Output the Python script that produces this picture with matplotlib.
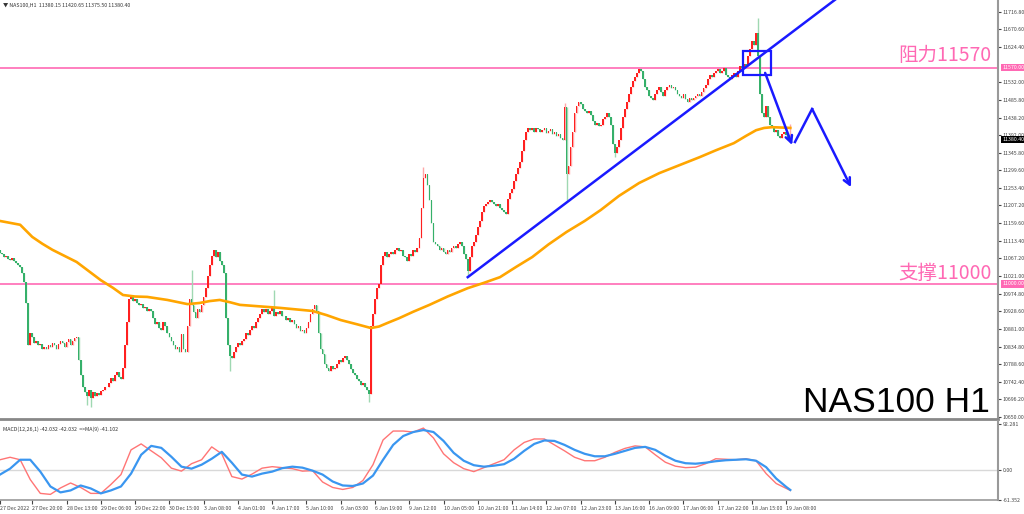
import matplotlib
matplotlib.use('Agg')
import matplotlib.pyplot as plt
from matplotlib.patches import Rectangle
import numpy as np

plt.rcParams['font.family'] = ['Noto Sans CJK SC', 'DejaVu Sans']

# NAS100 H1 終値（1本ごと、画像から読み取り）
closes = [
    11082, 11078, 11070, 11074, 11066, 11062, 11068, 11060, 11056, 11050, 11045,
    11030, 11005, 10950, 10840,
    10870, 10860, 10845, 10850, 10838, 10842, 10830, 10835, 10828, 10840,
    10835, 10845, 10838, 10830, 10842, 10850, 10845, 10835, 10848, 10855, 10840, 10850, 10858,
    10860, 10800, 10760, 10730, 10715, 10705, 10720, 10700, 10715,
    10705, 10712, 10708, 10718, 10722, 10730, 10728, 10740, 10752, 10745,
    10760, 10768, 10755, 10750,
    10780, 10840, 10900, 10960,
    10965, 10955, 10960, 10950, 10945, 10948, 10938, 10940, 10930, 10935,
    10930, 10910, 10895, 10900, 10885,
    10880, 10900, 10890, 10870, 10860,
    10850, 10840, 10830, 10835, 10822, 10868, 10828, 10820, 10890, 10960, 10945, 10925, 10910, 10935,
    10925, 10945, 10965,
    10990, 11020, 11050, 11075, 11090,
    11070, 11085, 11060, 11050,
    11030, 10910,
    10840, 10810, 10805,
    10820, 10835, 10845, 10840, 10850,
    10855, 10870, 10865, 10880, 10890, 10885, 10900, 10910, 10920, 10935,
    10925, 10935, 10920, 10930, 10940, 10915, 10925, 10920, 10928, 10915,
    10915, 10905, 10910, 10900, 10905,
    10895, 10885, 10890, 10875, 10880, 10870, 10885,
    10900, 10920, 10935, 10945, 10930,
    10870, 10830, 10815,
    10790, 10780, 10770, 10785, 10775,
    10780, 10790, 10800, 10795, 10805, 10810, 10800,
    10790, 10775, 10765,
    10760, 10750, 10745, 10735, 10740, 10728, 10720,
    10710,
    10890,
    10920, 10960, 10990, 11000,
    11050, 11075, 11085,
    11070, 11080, 11085, 11078, 11090, 11095, 11088,
    11090, 11075, 11070, 11060,
    11080, 11075, 11090, 11085, 11095,
    11120, 11200, 11280,
    11290, 11260,
    11220, 11160, 11110,
    11105, 11100, 11090, 11095, 11085, 11080, 11090,
    11085, 11095, 11100, 11095, 11105, 11110,
    11100, 11080, 11065,
    11035,
    11070, 11100, 11110, 11130, 11150, 11165,
    11190, 11205, 11210, 11215, 11220,
    11215, 11210, 11205, 11212, 11200, 11195,
    11190, 11185,
    11225, 11240, 11250, 11270, 11290, 11305,
    11320, 11350, 11380, 11400, 11410,
    11405, 11410, 11400, 11412, 11408, 11400, 11405, 11410, 11398, 11402, 11408, 11395,
    11400, 11390, 11395, 11385, 11380,
    11465,
    11290,
    11310, 11360, 11400,
    11450, 11470, 11480, 11475,
    11460, 11455, 11450, 11455, 11445,
    11430, 11420, 11425, 11415, 11420,
    11435, 11440, 11450, 11440, 11420,
    11370, 11345,
    11360, 11380, 11410, 11440, 11460, 11480, 11500, 11520, 11535, 11545, 11555,
    11565, 11560,
    11540, 11520, 11510, 11495, 11490, 11485, 11500,
    11510, 11520, 11505, 11495, 11510,
    11520, 11525, 11515, 11520, 11510,
    11500, 11495, 11490, 11500, 11488, 11480, 11490, 11485,
    11490, 11495, 11500, 11495, 11505,
    11515, 11525, 11540, 11550, 11545, 11555, 11560,
    11565, 11555, 11560, 11570, 11550,
    11545, 11540, 11550, 11555, 11545,
    11560, 11575, 11570, 11580, 11575,
    11600, 11620, 11640,
    11630, 11660,
    11600, 11500, 11450,
    11440, 11470, 11440,
    11420, 11415,
    11400, 11405, 11390, 11385, 11395, 11400, 11392, 11380.15, 11380.40,
]
first_open = 11090
# 目立つヒゲだけ（バー番号: 価格）
spike_highs = {95: 11037, 136: 10985, 210: 11308, 280: 11477, 376: 11700, 392: 11420.65}
spike_lows = {43: 10680, 45: 10676, 114: 10770, 183: 10690, 232: 11018, 281: 11220, 305: 11335, 392: 11375.50}

# 移動平均線（オレンジ）: バー番号と値
ma_bars = [0, 10, 16, 21, 26, 32, 38, 44, 50, 56, 61, 67, 73, 83, 93, 99, 104, 109, 114, 119,
           129, 139, 147, 155, 162, 169, 177, 184, 188, 192, 198, 205, 213, 222, 232, 240, 248,
           256, 264, 272, 281, 290, 298, 307, 317, 327, 337, 347, 355, 364, 370, 375, 379, 383, 388, 392]
ma_vals = [11166, 11156, 11124, 11106, 11090, 11074, 11058, 11034, 11010, 10990, 10971, 10967,
           10966, 10958, 10947, 10950, 10955, 10958, 10952, 10945, 10941, 10937, 10933, 10929,
           10918, 10905, 10894, 10884, 10888, 10897, 10910, 10927, 10945, 10967, 10989, 11003,
           11018, 11045, 11071, 11104, 11137, 11166, 11195, 11232, 11266, 11292, 11313, 11334,
           11352, 11371, 11390, 11405, 11411, 11413, 11412, 11411]

# MACD（5本ごと）
macd_bars = list(range(0, 391, 5)) + [392]
macd_main = [20, 25, 20, -20, -48, -50, -37, -27, -36, -48, -48, -30, -10, 40, 52, 38, 24, 3, -3, 12,
             20, 46, 32, -14, -19, -9, 3, 6, 4, 2, -3, -2, -25, -36, -40, -36, -22, 10, 60, 78,
             78, 76, 84, 64, 32, 14, 2, -4, 4, 12, 20, 40, 55, 62, 62, 50, 38, 25, 18, 18,
             25, 35, 43, 48, 46, 30, 15, 7, 4, 5, 12, 22, 21, 20, 22, 18, -8, -28, -38, -42.032]
macd_signal = [-10, 2, 20, 20, -4, -34, -46, -42, -32, -38, -48, -42, -34, -8, 30, 48, 44, 26, 6, 2,
               10, 22, 36, 14, -10, -14, -8, -4, 3, 6, 4, -2, -10, -24, -32, -33, -28, -12, 20, 50,
               68, 76, 80, 76, 58, 34, 18, 9, 6, 8, 11, 22, 38, 52, 59, 58, 50, 40, 32, 27,
               27, 32, 38, 44, 46, 40, 28, 18, 13, 12, 14, 17, 19, 20, 21, 18, 5, -18, -35, -41.102]

price_ticks = [11716.80, 11670.60, 11624.40, 11532.00, 11485.80, 11438.20, 11392.00,
               11345.80, 11299.60, 11253.40, 11207.20, 11159.60, 11113.40, 11067.20, 11021.00,
               10974.80, 10928.60, 10881.00, 10834.80, 10788.60, 10742.40, 10696.20, 10650.00]
time_labels = ['27 Dec 2022', '27 Dec 20:00', '28 Dec 13:00', '29 Dec 06:00', '29 Dec 22:00',
               '30 Dec 15:00', '3 Jan 08:00', '4 Jan 01:00', '4 Jan 17:00', '5 Jan 10:00',
               '6 Jan 03:00', '6 Jan 19:00', '9 Jan 12:00', '10 Jan 05:00', '10 Jan 21:00',
               '11 Jan 14:00', '12 Jan 07:00', '12 Jan 23:00', '13 Jan 16:00', '16 Jan 09:00',
               '17 Jan 06:00', '17 Jan 22:00', '18 Jan 15:00', '19 Jan 08:00']
resistance = 11570
support = 11000
last_price = 11380.40

# 色
up_body, up_wick = '#ff2020', '#ffa8a8'
dn_body, dn_wick = '#35b06a', '#9fd8b2'
pink = '#ff69b4'
blue = '#1a1aff'

n = len(closes)
x = np.arange(n)
c = np.array(closes)
o = np.array([first_open] + closes[:-1])
hi = np.maximum(o, c)
lo = np.minimum(o, c)
for k, v in spike_highs.items():
    hi[k] = max(hi[k], v)
for k, v in spike_lows.items():
    lo[k] = min(lo[k], v)
up = c >= o

fig = plt.figure(figsize=(10.24, 5.14), dpi=100)
W = 998 / 1024
ax = fig.add_axes([0, 1 - 419 / 514, W, 419 / 514])
ax2 = fig.add_axes([0, 1 - 500 / 514, W, 79 / 514])

# ローソク足
ax.vlines(x, lo, hi, colors=np.where(up, up_wick, dn_wick), linewidth=1.0, zorder=2)
ax.bar(x, np.maximum(np.abs(c - o), 2.0), bottom=np.minimum(o, c), width=0.85,
       color=np.where(up, up_body, dn_body), linewidth=0, zorder=3)

ax.plot(ma_bars, ma_vals, color='#ffa500', lw=1.9, zorder=4)
ax.axhline(resistance, color=pink, lw=1.2, zorder=1)
ax.axhline(support, color=pink, lw=1.2, zorder=1)

ax.text(0.9, resistance + 33, '阻力11570', transform=ax.get_yaxis_transform(),
        color=pink, fontsize=14, va='center', ha='left')
ax.text(0.9, support + 29, '支撑11000', transform=ax.get_yaxis_transform(),
        color=pink, fontsize=14, va='center', ha='left')

# 青い補助線
ax.plot([232, 420], [11018, 11018 + (11748 - 11018) / (414 - 232) * (420 - 232)], color=blue, lw=1.8, zorder=5)
ax.add_patch(Rectangle((368.6, 11550.5), 13.8, 64, fill=False, ec=blue, lw=1.6, zorder=6))
arrow = dict(arrowstyle='->', color=blue, lw=1.8, shrinkA=0, shrinkB=0, mutation_scale=12)
ax.annotate('', xy=(392.9, 11366), xytext=(379.5, 11556), arrowprops=arrow, zorder=6)
ax.plot([394.3, 402.8], [11374, 11461], color=blue, lw=1.8, zorder=6)
ax.annotate('', xy=(422.1, 11255), xytext=(402.8, 11461), arrowprops=arrow, zorder=6)

ax.text(0.992, 0.017, 'NAS100 H1', transform=ax.transAxes, ha='right', va='baseline',
        fontsize=25.5, family='Liberation Sans', color='black')

ax.set_xlim(0, 495)
ax.set_ylim(10644.4, 11748)
ax.set_xticks([])
ax.yaxis.tick_right()
ax.set_yticks(price_ticks)
ax.set_yticklabels(['%.2f' % v for v in price_ticks])
ax.tick_params(axis='y', labelsize=3.8, length=2, pad=1.5, colors='#444444')
for s in ['left', 'top']:
    ax.spines[s].set_visible(False)
ax.spines['right'].set_color('#999999')
ax.spines['right'].set_linewidth(1.5)
ax.spines['bottom'].set_color('#888888')
ax.spines['bottom'].set_linewidth(2)

# 右軸のラベル枠
lab = dict(transform=ax.get_yaxis_transform(), fontsize=3.8, va='center', ha='left', clip_on=False)
ax.text(1.004, resistance, '%.2f' % resistance, color='white',
        bbox=dict(boxstyle='square,pad=0.2', fc=pink, ec='none'), **lab)
ax.text(1.004, support, '%.2f' % support, color='white',
        bbox=dict(boxstyle='square,pad=0.2', fc=pink, ec='none'), **lab)
ax.text(1.004, last_price, '%.2f' % last_price, color='white',
        bbox=dict(boxstyle='square,pad=0.2', fc='black', ec='none'), **lab)

fig.text(0.003, 1 - 5 / 514, '▼ NAS100,H1  11380.15 11420.65 11375.50 11380.40',
         fontsize=3.8, va='center', color='#333333')

# MACD
ax2.axhline(0, color='#d8d8d8', lw=1.0)
ax2.plot(macd_bars, macd_main, color='#ff7575', lw=1.0)
ax2.plot(macd_bars, macd_signal, color='#3a96f0', lw=1.6)
ax2.set_xlim(0, 495)
ax2.set_ylim(-61.35, 98.3)
ax2.yaxis.tick_right()
ax2.set_yticks([92.281, 0, -61.352])
ax2.set_yticklabels(['92.281', '0.00', '-61.352'])
ax2.tick_params(axis='y', labelsize=3.8, length=2, pad=1.5, colors='#444444')
tick_bars = [0] + [16 + 17 * k for k in range(len(time_labels) - 1)]
ax2.set_xticks(tick_bars)
ax2.set_xticklabels(time_labels, ha='left')
ax2.tick_params(axis='x', labelsize=3.8, length=3, pad=1, colors='#444444')
for s in ['left', 'top']:
    ax2.spines[s].set_visible(False)
ax2.spines['right'].set_color('#999999')
ax2.spines['right'].set_linewidth(1.5)
ax2.spines['bottom'].set_color('#999999')
ax2.spines['bottom'].set_linewidth(1.2)
ax2.text(0.003, 0.9, 'MACD(12,26,1) -42.032 -42.032  =>MA(9) -41.102', transform=ax2.transAxes,
         fontsize=3.8, va='center', color='#333333')

fig.savefig('out.png', dpi=100)
